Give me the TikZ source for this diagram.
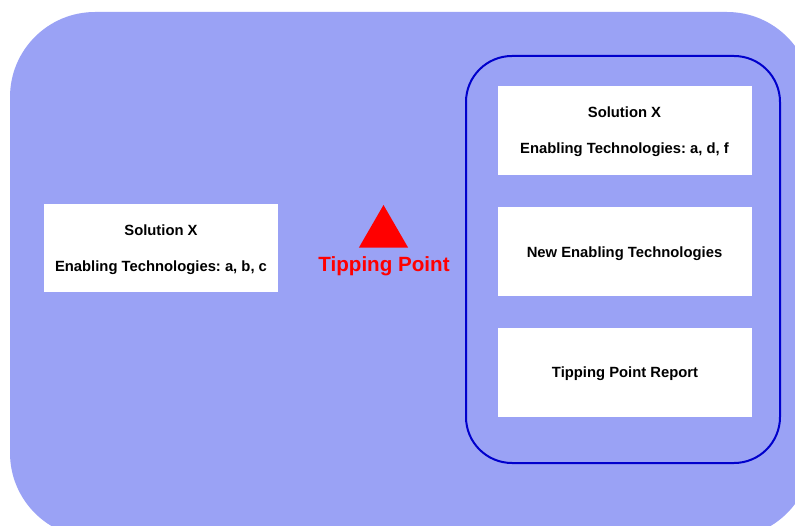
\documentclass[tikz,border=0pt]{standalone}
\usepackage{fontspec}
\setmainfont{Liberation Sans}
\usepackage{tikz}
\usetikzlibrary{shapes.geometric}
\frenchspacing

\definecolor{panelblue}{RGB}{154,162,245}
\definecolor{rimblue}{RGB}{0,0,204}

\tikzset{
  techbox/.style={rectangle,fill=white,inner sep=0pt,align=center,
    minimum width=254pt,minimum height=89pt,text depth=0pt,
    font=\bfseries\fontsize{14.8}{17}\selectfont},
}

\begin{document}
\begin{tikzpicture}[x=1pt,y=-1pt]
 \clip (0,0) rectangle (795,526);

 % background panel and the group on the right
 \fill[panelblue,rounded corners=85pt] (10,12) rectangle (812,538);
 \draw[rimblue,line width=2pt,rounded corners=46pt] (466,56) rectangle (780,463);

 \node at (161,248) [techbox,minimum width=234pt,minimum height=88pt] (old)
   {Solution X\\[19pt]Enabling Technologies: a, b, c};

 \node at (383.5,233.5) [regular polygon,regular polygon sides=3,fill=red,
   inner sep=0pt,minimum size=57pt] (tip) {};
 \node at (384,266) [text=red,font=\bfseries\fontsize{20.6}{24}\selectfont] (tiplabel) {Tipping Point};

 \node at (624.5,130.5) [techbox] (new) {Solution X\\[19pt]Enabling Technologies: a, d, f};
 \node at (624.5,252) [techbox] (newtech) {New Enabling Technologies};
 \node at (625,372.5) [techbox] (report) {Tipping Point Report};
\end{tikzpicture}
\end{document}
